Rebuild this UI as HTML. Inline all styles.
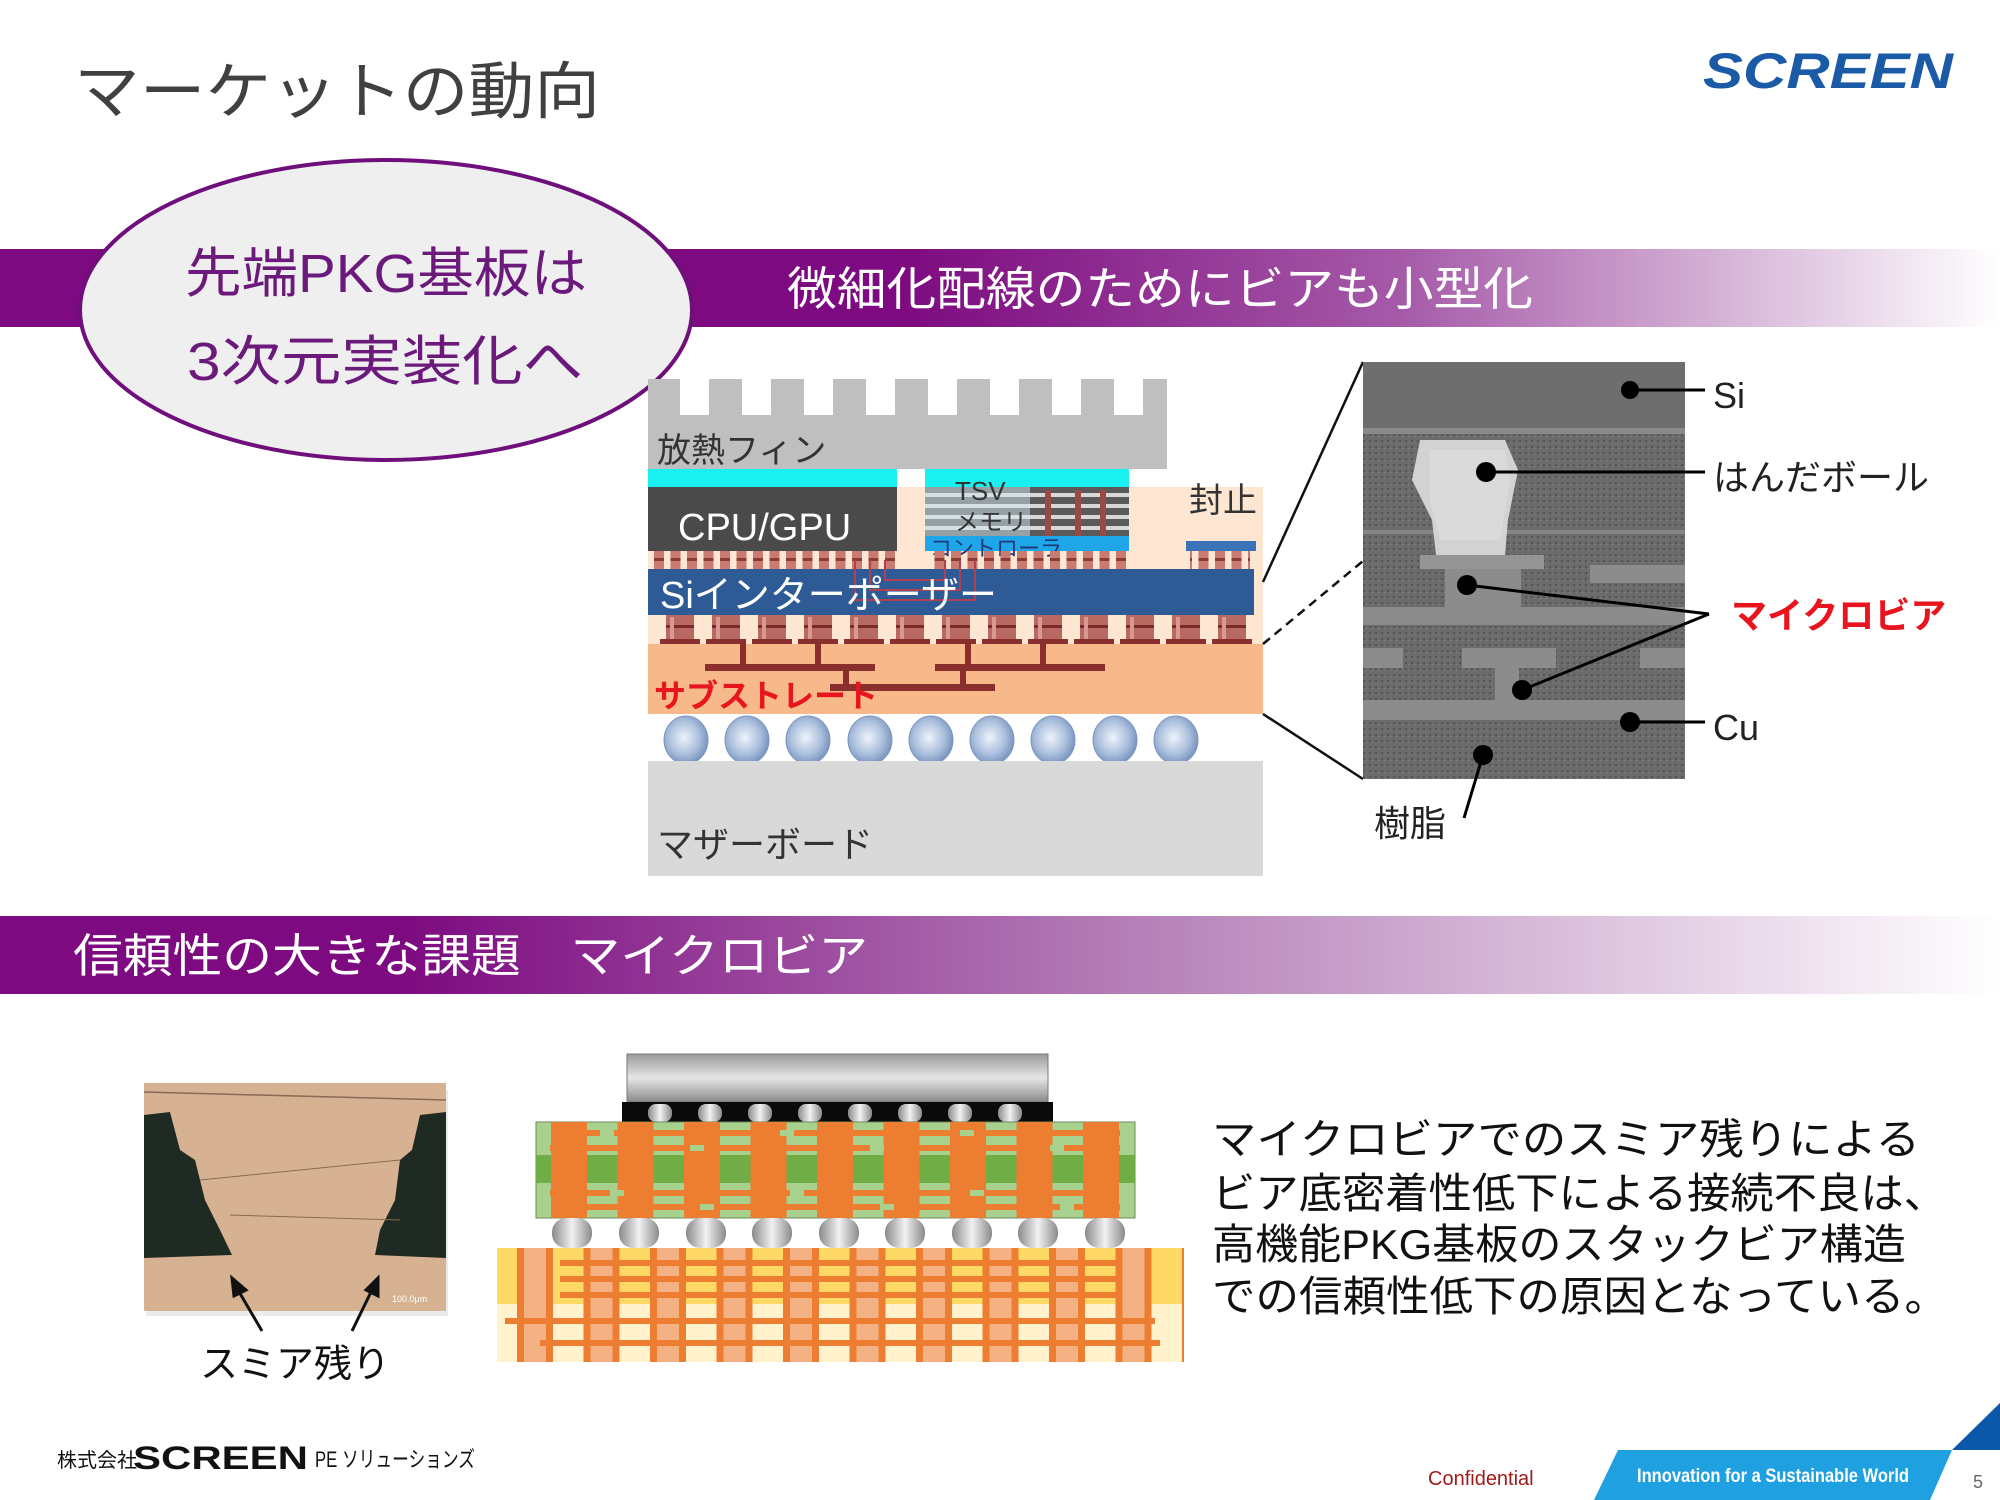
<!DOCTYPE html>
<html><head><meta charset="utf-8"><style>
html,body{margin:0;padding:0;background:#fff;}
svg{display:block;}
text{font-family:"Liberation Sans","Noto Sans CJK JP",sans-serif;}
</style></head><body>
<svg width="2000" height="1500" viewBox="0 0 2000 1500" xmlns="http://www.w3.org/2000/svg">
<defs>
<linearGradient id="band1" x1="0" x2="1" y1="0" y2="0">
<stop offset="0" stop-color="#7d0a80"/><stop offset="0.45" stop-color="#7d0a80"/><stop offset="0.7" stop-color="#a55aa8"/><stop offset="1" stop-color="#ffffff"/>
</linearGradient>
<linearGradient id="band2" x1="0" x2="1" y1="0" y2="0">
<stop offset="0" stop-color="#7d0a80"/><stop offset="0.2" stop-color="#7d0a80"/><stop offset="0.55" stop-color="#b27ab5"/><stop offset="1" stop-color="#ffffff"/>
</linearGradient>
<radialGradient id="ball" cx="0.45" cy="0.45" r="0.6">
<stop offset="0" stop-color="#eef3fb"/><stop offset="0.6" stop-color="#a9bedc"/><stop offset="1" stop-color="#6f8cb8"/>
</radialGradient>
<linearGradient id="chip" x1="0" x2="0" y1="0" y2="1">
<stop offset="0" stop-color="#9a9a9a"/><stop offset="0.5" stop-color="#e6e6e6"/><stop offset="1" stop-color="#8a8a8a"/>
</linearGradient>
<linearGradient id="sball" x1="0" x2="1" y1="0" y2="0">
<stop offset="0" stop-color="#8a8a8a"/><stop offset="0.5" stop-color="#f2f2f2"/><stop offset="1" stop-color="#8a8a8a"/>
</linearGradient>
<pattern id="mb" x="652" y="551" width="16.5" height="20" patternUnits="userSpaceOnUse">
<rect x="2" y="0" width="10" height="18" fill="#c87b6e"/><rect x="2" y="7" width="10" height="3" fill="#8b3a36"/>
</pattern>
<pattern id="pil" x="660" y="615" width="46" height="40" patternUnits="userSpaceOnUse">
<rect x="6" y="0" width="28" height="29" fill="#b86a62"/><rect x="6" y="10" width="28" height="3" fill="#7b2a28"/><rect x="10" y="2" width="4" height="25" fill="#d89a90"/><rect x="0" y="24" width="40" height="5" fill="#8b2e2e"/>
</pattern>
<pattern id="sem" width="6" height="6" patternUnits="userSpaceOnUse">
<rect width="6" height="6" fill="#6b6b6b"/><rect x="1" y="2" width="2" height="2" fill="#555"/><rect x="4" y="4" width="1" height="1" fill="#888"/>
</pattern>
<pattern id="via2" x="536" y="0" width="66.5" height="100" patternUnits="userSpaceOnUse">
<rect x="15" y="0" width="36" height="100" fill="#ed7d31"/>
</pattern>
<pattern id="via3" x="497" y="0" width="66.5" height="200" patternUnits="userSpaceOnUse">
<rect x="20" y="0" width="36" height="200" fill="#ed7d31"/><rect x="27" y="0" width="22" height="200" fill="#f4b183"/>
</pattern>
</defs>

<!-- title -->
<text x="74" y="113" font-size="62" fill="#404040" textLength="526" lengthAdjust="spacingAndGlyphs">マーケットの動向</text>
<text x="1703" y="88" font-size="50" font-weight="bold" font-style="italic" fill="#1b5aa6" textLength="250" lengthAdjust="spacingAndGlyphs">SCREEN</text>

<!-- band 1 -->
<rect x="0" y="249" width="2000" height="78" fill="url(#band1)"/>
<text x="787" y="305" font-size="46" fill="#fff" textLength="746" lengthAdjust="spacingAndGlyphs">微細化配線のためにビアも小型化</text>

<!-- ellipse -->
<ellipse cx="386" cy="310" rx="306" ry="150" fill="#efefef" stroke="#6e0f7c" stroke-width="4"/>
<text x="185" y="292" font-size="54" fill="#6b1a7c" textLength="402" lengthAdjust="spacingAndGlyphs">先端PKG基板は</text>
<text x="187" y="380" font-size="54" fill="#6b1a7c" textLength="396" lengthAdjust="spacingAndGlyphs">3次元実装化へ</text>

<!-- diagram 1 -->
<rect x="648" y="487" width="615" height="157" fill="#fde6d2"/>
<rect x="648" y="379" width="519" height="90" fill="#bfbfbf"/>
<g fill="#fff">
<rect x="680" y="379" width="29" height="36"/><rect x="742" y="379" width="29" height="36"/><rect x="804" y="379" width="29" height="36"/><rect x="866" y="379" width="29" height="36"/><rect x="928" y="379" width="29" height="36"/><rect x="990" y="379" width="29" height="36"/><rect x="1052" y="379" width="29" height="36"/><rect x="1114" y="379" width="29" height="36"/>
</g>
<text x="657" y="462" font-size="34" fill="#333">放熱フィン</text>
<rect x="648" y="469" width="249" height="18" fill="#19f0f0"/>
<rect x="925" y="469" width="204" height="18" fill="#19f0f0"/>
<rect x="648" y="487" width="249" height="64" fill="#4a4a4a"/>
<text x="678" y="540" font-size="38" fill="#fff">CPU/GPU</text>
<rect x="925" y="487" width="204" height="49" fill="#5a5a5a"/>
<g fill="#d8d8d8"><rect x="925" y="493" width="204" height="4"/><rect x="925" y="504" width="204" height="4"/><rect x="925" y="515" width="204" height="4"/><rect x="925" y="526" width="204" height="4"/></g>
<rect x="925" y="487" width="105" height="49" fill="#cfe7f0" opacity="0.5"/>
<g fill="#9a4a44"><rect x="1045" y="490" width="6" height="46"/><rect x="1075" y="490" width="6" height="46"/><rect x="1100" y="490" width="6" height="46"/></g>
<rect x="925" y="536" width="204" height="15" fill="#1fa6e8"/>
<text x="955" y="500" font-size="26" fill="#333">TSV</text>
<text x="955" y="530" font-size="24" fill="#333">メモリ</text>
<text x="930" y="556" font-size="22" fill="#1a3a7a">コントローラ</text>
<text x="1189" y="512" font-size="34" fill="#333">封止</text>
<rect x="1186" y="541" width="70" height="10" fill="#3a73b8"/>
<rect x="648" y="551" width="249" height="18" fill="url(#mb)"/>
<rect x="930" y="551" width="200" height="18" fill="url(#mb)"/>
<rect x="1190" y="551" width="60" height="18" fill="url(#mb)"/>
<rect x="648" y="569" width="606" height="46" fill="#2e5b95"/>
<path d="M855 560 V600 H975 V560 M870 560 V590 H960 V560 M885 560 V580 H945 V560" stroke="#b04050" stroke-width="2" fill="none"/>
<text x="660" y="608" font-size="38" fill="#fff">Siインターポーザー</text>
<rect x="654" y="615" width="600" height="29" fill="url(#pil)"/>
<rect x="648" y="644" width="615" height="70" fill="#f7b98a"/>
<g fill="#8b2e2e">
<rect x="740" y="644" width="6" height="20"/><rect x="815" y="644" width="6" height="20"/><rect x="965" y="644" width="6" height="20"/><rect x="1040" y="644" width="6" height="20"/>
<rect x="705" y="664" width="170" height="7"/><rect x="935" y="664" width="170" height="7"/><rect x="830" y="684" width="165" height="7"/>
<rect x="843" y="671" width="6" height="13"/><rect x="960" y="671" width="6" height="13"/>
</g>
<text x="654" y="707" font-size="32" font-weight="bold" fill="#e8141e">サブストレート</text>
<g fill="url(#ball)" stroke="#7d97c0" stroke-width="1">
<ellipse cx="686" cy="740" rx="22" ry="24"/><ellipse cx="747" cy="740" rx="22" ry="24"/><ellipse cx="808" cy="740" rx="22" ry="24"/><ellipse cx="870" cy="740" rx="22" ry="24"/><ellipse cx="931" cy="740" rx="22" ry="24"/><ellipse cx="992" cy="740" rx="22" ry="24"/><ellipse cx="1053" cy="740" rx="22" ry="24"/><ellipse cx="1115" cy="740" rx="22" ry="24"/><ellipse cx="1176" cy="740" rx="22" ry="24"/>
</g>
<rect x="648" y="761" width="615" height="115" fill="#d9d9d9"/>
<text x="657" y="857" font-size="36" fill="#333">マザーボード</text>

<!-- connectors -->
<line x1="1263" y1="582" x2="1363" y2="362" stroke="#111" stroke-width="2.5"/>
<line x1="1263" y1="644" x2="1363" y2="561" stroke="#111" stroke-width="2.5" stroke-dasharray="9,6"/>
<line x1="1263" y1="714" x2="1363" y2="779" stroke="#111" stroke-width="2.5"/>

<!-- SEM -->
<rect x="1363" y="362" width="322" height="417" fill="url(#sem)"/>
<rect x="1363" y="362" width="322" height="66" fill="#6e6e6e"/>
<rect x="1363" y="428" width="322" height="6" fill="#8a8a8a"/>
<rect x="1363" y="530" width="322" height="4" fill="#858585"/>
<rect x="1363" y="607" width="322" height="18" fill="#8c8c8c"/>
<rect x="1363" y="700" width="322" height="20" fill="#8c8c8c"/>
<rect x="1462" y="648" width="94" height="20" fill="#8c8c8c"/>
<rect x="1363" y="648" width="40" height="20" fill="#8c8c8c"/>
<rect x="1640" y="648" width="45" height="20" fill="#8c8c8c"/>
<rect x="1590" y="565" width="95" height="18" fill="#8c8c8c"/>
<rect x="1495" y="660" width="24" height="45" fill="#8c8c8c"/>
<rect x="1445" y="562" width="76" height="50" fill="#8c8c8c"/>
<rect x="1420" y="555" width="124" height="14" fill="#959595"/>
<path d="M1420 440 L1505 440 L1518 470 L1508 520 L1505 555 L1436 555 L1432 520 L1412 480 Z" fill="#d2d2d2"/>
<path d="M1430 450 L1505 450 L1510 480 L1500 540 L1440 540 L1430 500 Z" fill="#e0e0e0" opacity="0.6"/>
<g fill="#000">
<circle cx="1630" cy="390" r="9"/><circle cx="1486" cy="472" r="10"/><circle cx="1467" cy="585" r="10"/><circle cx="1522" cy="690" r="10"/><circle cx="1630" cy="722" r="10"/><circle cx="1483" cy="755" r="10"/>
</g>
<g stroke="#000" stroke-width="3">
<line x1="1630" y1="390" x2="1705" y2="390"/><line x1="1486" y1="472" x2="1705" y2="472"/>
<line x1="1467" y1="585" x2="1709" y2="614"/><line x1="1522" y1="690" x2="1709" y2="614"/>
<line x1="1630" y1="722" x2="1705" y2="722"/><line x1="1483" y1="755" x2="1464" y2="818"/>
</g>
<text x="1713" y="408" font-size="36" fill="#222">Si</text>
<text x="1713" y="490" font-size="36" fill="#222">はんだボール</text>
<text x="1731" y="628" font-size="36" font-weight="bold" fill="#e8141e">マイクロビア</text>
<text x="1713" y="740" font-size="36" fill="#222">Cu</text>
<text x="1374" y="836" font-size="36" fill="#222">樹脂</text>

<!-- band 2 -->
<rect x="0" y="916" width="2000" height="78" fill="url(#band2)"/>
<text x="73" y="972" font-size="46" fill="#fff" textLength="795" lengthAdjust="spacingAndGlyphs">信頼性の大きな課題　マイクロビア</text>

<!-- smear photo -->
<rect x="146" y="1090" width="302" height="226" fill="#000" opacity="0.08"/>
<rect x="144" y="1083" width="302" height="228" fill="#d6b293"/>
<path d="M144 1115 L170 1112 L180 1150 L195 1160 L205 1200 L220 1230 L232 1255 L144 1258 Z" fill="#1f2a22"/>
<path d="M446 1112 L420 1115 L412 1150 L400 1160 L395 1200 L380 1230 L375 1255 L446 1258 Z" fill="#1f2a22"/>
<line x1="200" y1="1180" x2="400" y2="1160" stroke="#8a6a55" stroke-width="1"/>
<line x1="230" y1="1215" x2="400" y2="1220" stroke="#8a6a55" stroke-width="1"/>
<line x1="144" y1="1092" x2="446" y2="1100" stroke="#8a6a55" stroke-width="1.5"/>
<text x="392" y="1302" font-size="9" fill="#fff">100.0μm</text>
<g stroke="#111" stroke-width="3" fill="#111">
<line x1="262" y1="1331" x2="238" y2="1290"/><path d="M232 1278 L246 1290 L234 1296 Z"/>
<line x1="352" y1="1331" x2="372" y2="1290"/><path d="M378 1278 L378 1296 L366 1290 Z"/>
</g>
<text x="200" y="1377" font-size="38" fill="#111" textLength="190" lengthAdjust="spacingAndGlyphs">スミア残り</text>

<!-- diagram 2 -->
<rect x="627" y="1054" width="421" height="48" fill="url(#chip)" stroke="#777" stroke-width="1"/>
<rect x="622" y="1102" width="431" height="20" fill="#0a0a0a"/>
<g fill="url(#sball)">
<rect x="648" y="1104" width="24" height="18" rx="8"/><rect x="698" y="1104" width="24" height="18" rx="8"/><rect x="748" y="1104" width="24" height="18" rx="8"/><rect x="798" y="1104" width="24" height="18" rx="8"/><rect x="848" y="1104" width="24" height="18" rx="8"/><rect x="898" y="1104" width="24" height="18" rx="8"/><rect x="948" y="1104" width="24" height="18" rx="8"/><rect x="998" y="1104" width="24" height="18" rx="8"/>
</g>
<rect x="536" y="1122" width="599" height="96" fill="#a9d18e" stroke="#6a8a5a" stroke-width="1"/>
<rect x="536" y="1155" width="599" height="28" fill="#70ad47"/>
<rect x="536" y="1122" width="599" height="96" fill="url(#via2)"/>
<g fill="#ed7d31">
<rect x="560" y="1130" width="560" height="6"/><rect x="550" y="1145" width="570" height="6"/>
<rect x="550" y="1190" width="560" height="6"/><rect x="560" y="1204" width="560" height="6"/>
</g>
<g fill="#a9d18e">
<rect x="600" y="1130" width="14" height="6"/><rect x="690" y="1145" width="14" height="6"/><rect x="780" y="1130" width="14" height="6"/><rect x="870" y="1145" width="14" height="6"/><rect x="960" y="1130" width="14" height="6"/><rect x="1050" y="1145" width="14" height="6"/>
<rect x="610" y="1190" width="14" height="6"/><rect x="700" y="1204" width="14" height="6"/><rect x="790" y="1190" width="14" height="6"/><rect x="880" y="1204" width="14" height="6"/><rect x="970" y="1190" width="14" height="6"/><rect x="1060" y="1204" width="14" height="6"/>
</g>
<g fill="url(#sball)">
<rect x="552" y="1218" width="40" height="30" rx="14"/><rect x="619" y="1218" width="40" height="30" rx="14"/><rect x="686" y="1218" width="40" height="30" rx="14"/><rect x="752" y="1218" width="40" height="30" rx="14"/><rect x="819" y="1218" width="40" height="30" rx="14"/><rect x="885" y="1218" width="40" height="30" rx="14"/><rect x="952" y="1218" width="40" height="30" rx="14"/><rect x="1018" y="1218" width="40" height="30" rx="14"/><rect x="1085" y="1218" width="40" height="30" rx="14"/>
</g>
<rect x="497" y="1248" width="687" height="56" fill="#ffd966"/>
<rect x="497" y="1304" width="687" height="58" fill="#fff2cc"/>
<rect x="497" y="1248" width="687" height="114" fill="url(#via3)"/>
<g fill="#ed7d31">
<rect x="560" y="1260" width="560" height="6"/><rect x="560" y="1276" width="560" height="6"/><rect x="560" y="1292" width="560" height="6"/>
<rect x="505" y="1318" width="650" height="6"/><rect x="540" y="1340" width="620" height="6"/>
</g>

<!-- paragraph -->
<g font-size="42" fill="#111">
<text x="1212" y="1154" textLength="708" lengthAdjust="spacingAndGlyphs">マイクロビアでのスミア残りによる</text>
<text x="1212" y="1208" textLength="735" lengthAdjust="spacingAndGlyphs">ビア底密着性低下による接続不良は、</text>
<text x="1212" y="1259" textLength="694" lengthAdjust="spacingAndGlyphs">高機能PKG基板のスタックビア構造</text>
<text x="1212" y="1311" textLength="736" lengthAdjust="spacingAndGlyphs">での信頼性低下の原因となっている。</text>
</g>

<!-- footer -->
<text x="57" y="1467" font-size="20" fill="#111">株式会社</text>
<text x="133" y="1469" font-size="32" font-weight="bold" fill="#111" textLength="175" lengthAdjust="spacingAndGlyphs">SCREEN</text>
<text x="315" y="1467" font-size="22" fill="#111" textLength="160" lengthAdjust="spacingAndGlyphs">PE ソリューションズ</text>
<text x="1428" y="1485" font-size="20" fill="#a01a1a">Confidential</text>
<polygon points="1618,1450 1952,1450 1930,1500 1594,1500" fill="#1fa0e0"/>
<polygon points="1952,1450 2000,1403 2000,1450" fill="#0b57a8"/>
<text x="1637" y="1482" font-size="19" font-weight="bold" fill="#fff" textLength="272" lengthAdjust="spacingAndGlyphs">Innovation for a Sustainable World</text>
<text x="1973" y="1488" font-size="18" fill="#666">5</text>
</svg>
</body></html>
